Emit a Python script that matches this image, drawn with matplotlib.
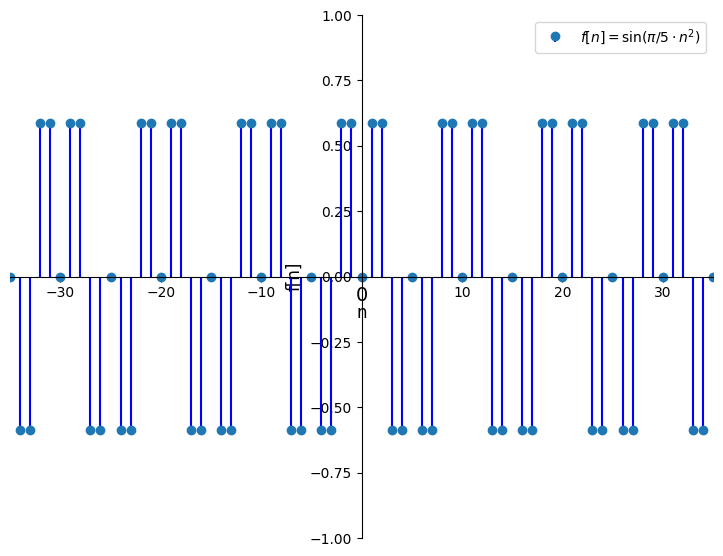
import numpy as np
import matplotlib
matplotlib.use('Agg')
import matplotlib.pyplot as plt

# sample index and read-off values (0.588 ~ peak level)
n = list(range(-35, 36))
values = [
    0, -0.588, -0.588, 0.588, 0.588,
    0, 0.588, 0.588, -0.588, -0.588, 0, -0.588, -0.588, 0.588, 0.588,
    0, 0.588, 0.588, -0.588, -0.588, 0, -0.588, -0.588, 0.588, 0.588,
    0, 0.588, 0.588, -0.588, -0.588, 0, -0.588, -0.588, 0.588, 0.588,
    0, 0.588, 0.588, -0.588, -0.588, 0, -0.588, -0.588, 0.588, 0.588,
    0, 0.588, 0.588, -0.588, -0.588, 0, -0.588, -0.588, 0.588, 0.588,
    0, 0.588, 0.588, -0.588, -0.588, 0, -0.588, -0.588, 0.588, 0.588,
    0, 0.588, 0.588, -0.588, -0.588, 0,
]
label = r'$f[n] = \sin(\pi/5 \cdot n^2)$'

fig, ax = plt.subplots(figsize=(7.23, 5.56), dpi=100)
fig.subplots_adjust(left=0.014, right=0.986, top=0.973, bottom=0.032)

markerline, stemlines, baseline = ax.stem(n, values, linefmt='b-', markerfmt='C0o', basefmt=' ', label=label)

ax.spines['left'].set_position('zero')
ax.spines['bottom'].set_position('zero')
ax.spines['right'].set_visible(False)
ax.spines['top'].set_visible(False)

ax.set_xlim(-35, 35)
ax.set_ylim(-1, 1)
ax.set_xticks([-30, -20, -10, 0, 10, 20, 30])
ax.set_xlabel('n', fontsize=12, labelpad=-1)
ax.set_ylabel('f[n]', fontsize=12)
ax.legend(loc='upper right')

# the zero tick label looks bigger in the reference
fig.canvas.draw()
for t in ax.get_xticklabels():
    if t.get_text() in ('0', '$\\mathdefault{0}$'):
        t.set_fontsize(14)

fig.savefig('out.png', dpi=100)
